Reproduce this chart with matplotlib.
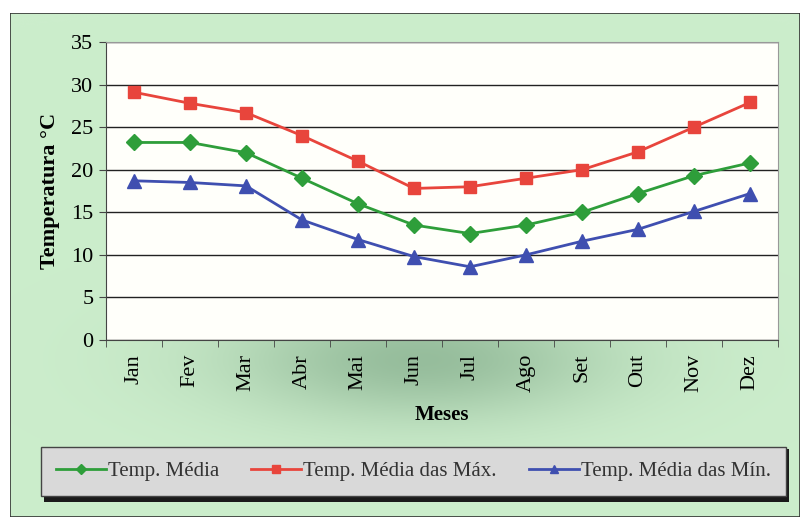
import matplotlib
matplotlib.use("Agg")
import matplotlib.pyplot as plt
import numpy as np
from matplotlib.patches import Rectangle

months = ["Jan", "Fev", "Mar", "Abr", "Mai", "Jun", "Jul", "Ago", "Set", "Out", "Nov", "Dez"]
temp_media = [23.2, 23.2, 22.0, 19.0, 16.0, 13.5, 12.5, 13.5, 15.0, 17.2, 19.3, 20.8]
temp_max = [29.1, 27.8, 26.7, 24.0, 21.0, 17.8, 18.0, 19.0, 20.0, 22.1, 25.0, 27.9]
temp_min = [18.7, 18.5, 18.1, 14.1, 11.8, 9.8, 8.6, 10.0, 11.6, 13.0, 15.1, 17.2]
labels = ["Temp. Média", "Temp. Média das Máx.", "Temp. Média das Mín."]

plt.rcParams['font.family'] = ['Liberation Serif', 'DejaVu Serif']

W, H = 806, 522
fig = plt.figure(figsize=(W / 100, H / 100), dpi=100)
fig.patch.set_facecolor("white")

# green background with darker gradient below the x-axis
bx0, by0, bw, bh = 10, 13, 790, 504
bg = fig.add_axes([bx0 / W, 1 - (by0 + bh) / H, bw / W, bh / H])
bg.set_axis_off()
xx = np.linspace(0, 1, 400)
yy = np.linspace(0, 1, 300)
X, Y = np.meshgrid(xx, yy)
base = np.array([0.80, 0.93, 0.80])
dark = np.array([0.52, 0.68, 0.55])
cx = (420 - bx0) / bw
cy = (360 - by0) / bh
w = np.exp(-((X - cx) / 0.24) ** 2) * np.exp(-((Y - cy) / 0.12) ** 2) * 0.75
img = base[None, None, :] * (1 - w[..., None]) + dark[None, None, :] * w[..., None]
bg.imshow(img, extent=[0, 1, 0, 1], aspect="auto", origin="upper")
bg.add_patch(Rectangle((0, 0), 1, 1, fill=False, edgecolor="#333333", lw=1.2, transform=bg.transAxes))
bg.set_xlim(0, 1)
bg.set_ylim(0, 1)

ax = fig.add_axes([106 / W, 1 - 340 / H, 672 / W, 298 / H])
ax.set_facecolor("#fffffa")
x = np.arange(len(months))
ax.plot(x, temp_media, color="#2e9e3a", marker="D", ms=8, lw=2, label=labels[0])
ax.plot(x, temp_max, color="#e8453c", marker="s", ms=9, lw=2, label=labels[1])
ax.plot(x, temp_min, color="#3f4fb0", marker="^", ms=9.5, lw=2, label=labels[2])
ax.set_xlim(-0.5, len(months) - 0.5)
ax.set_ylim(0, 35)
ax.set_yticks(range(0, 36, 5))
ax.yaxis.grid(True, color="#222222", lw=1.0)
ax.set_axisbelow(True)
ax.set_xticks(x)
ax.set_xticklabels(months, rotation=90, fontsize=16)
ax.set_xticks(np.arange(-0.5, len(months), 1), minor=True)
ax.tick_params(axis="x", which="major", length=0, pad=10)
ax.tick_params(axis="x", which="minor", length=5, direction="out", color="#444444")
ax.tick_params(axis="y", labelsize=16, length=5, color="#444444", pad=4)
for s in ["top", "right"]:
    ax.spines[s].set_color("#999999")
for s in ["left", "bottom"]:
    ax.spines[s].set_color("#444444")
ax.set_ylabel("Temperatura °C", fontsize=16, fontweight="bold", labelpad=8)
ax.set_xlabel("Meses", fontsize=15, fontweight="bold", labelpad=9)

# legend with gray box and shadow
lx0, ly0, lx1, ly1 = 41, 445, 786, 498
fig.patches.append(Rectangle(((lx0 + 3) / W, 1 - (ly1 + 4) / H), (lx1 - lx0) / W, (ly1 - ly0) / H,
                             transform=fig.transFigure, facecolor="#1a1a1a", edgecolor="none", zorder=1))
leg = fig.legend(loc="center", bbox_to_anchor=(lx0 / W, 1 - ly1 / H, (lx1 - lx0) / W, (ly1 - ly0) / H),
                 mode="expand", ncol=3, fontsize=15, frameon=True, fancybox=False,
                 edgecolor="#444444", facecolor="#d9d9d9", framealpha=1, markerscale=0.6,
                 handlelength=2.4, columnspacing=1.2, borderpad=0.7, handletextpad=0.1,
                 borderaxespad=0)
leg.get_frame().set_linewidth(1.0)
for t in leg.get_texts():
    t.set_color("#333333")

fig.savefig("out.png", dpi=100)
